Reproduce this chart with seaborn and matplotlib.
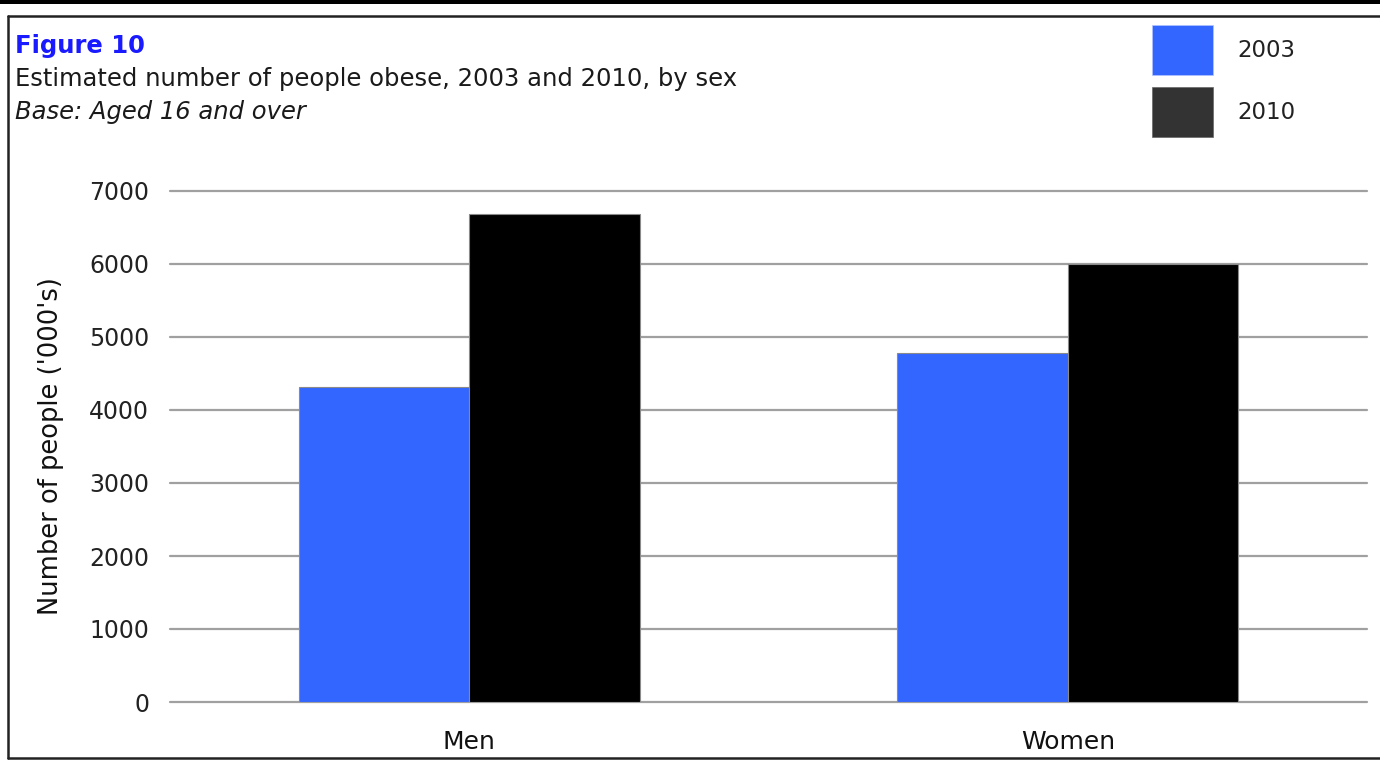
import matplotlib
matplotlib.use("Agg")
import matplotlib.pyplot as plt
from matplotlib.patches import Patch, Rectangle
from matplotlib.lines import Line2D
import seaborn as sns
import pandas as pd

# Estimated number of obese people aged 16+ ('000s)
sexes = ["Men", "Women"]
years = ["2003", "2010"]
values_2003 = [4310, 4780]
values_2010 = [6680, 6000]
y_ticks = [0, 1000, 2000, 3000, 4000, 5000, 6000, 7000]

df = pd.DataFrame({
    "sex": sexes * 2,
    "year": [years[0]] * len(sexes) + [years[1]] * len(sexes),
    "value": values_2003 + values_2010,
})

sns.set_theme(style="white")
plt.rcParams["font.family"] = ["DejaVu Sans"]

W, H = 1380, 765
fig = plt.figure(figsize=(W / 100, H / 100), dpi=100)
fig.patch.set_facecolor("white")

# plot area in pixel terms
x0, x1 = 170, 1367
y_top, y_bot = 191, 702
ax = fig.add_axes([x0 / W, 1 - y_bot / H, (x1 - x0) / W, (y_bot - y_top) / H])

bar_colors = {"2003": "#3366ff", "2010": "#000000"}
sns.barplot(data=df, x="sex", y="value", hue="year", order=sexes,
            hue_order=years, palette=bar_colors, width=0.57, gap=0,
            edgecolor="#8a8a8a", linewidth=0.8, saturation=1, ax=ax,
            zorder=3)

ax.set_xlim(-0.5, 1.5)
ax.set_ylim(0, 7000)
ax.set_yticks(y_ticks)
ax.set_yticklabels([str(t) for t in y_ticks])
ax.yaxis.grid(True, color="#a0a0a0", linewidth=1.6, zorder=0)
for gl in ax.get_ygridlines():
    gl.set_clip_on(False)
ax.set_axisbelow(True)
for s in ax.spines.values():
    s.set_visible(False)
ax.tick_params(axis="y", length=0, pad=15, labelsize=17, labelcolor="#222222")
ax.tick_params(axis="x", length=0, pad=20, labelsize=18, labelcolor="#111111")
ax.set_xlabel("")
ax.set_ylabel("Number of people ('000's)", fontsize=18.5, color="#111111",
              labelpad=18)
ax.get_legend().remove()

# legend squares and labels
handles = [Patch(facecolor="#3366ff", edgecolor="#b0c4ff", linewidth=0.5),
           Patch(facecolor="#333333", edgecolor="#666666", linewidth=0.5)]
fig.legend(handles, years, loc="upper left",
           bbox_to_anchor=(1152 / W, 1 - 25 / H), frameon=False,
           fontsize=16.5, handlelength=2.66, handleheight=2.97,
           labelspacing=0.55, handletextpad=1.05, borderpad=0,
           borderaxespad=0, labelcolor="#222222")

# heading block
fig.text(15 / W, 1 - 46 / H, "Figure 10", fontsize=17.5, fontweight="bold",
         color="#1a1aff", va="center", ha="left")
fig.text(15 / W, 1 - 79 / H,
         "Estimated number of people obese, 2003 and 2010, by sex",
         fontsize=17.5, color="#1a1a1a", va="center", ha="left")
fig.text(15 / W, 1 - 112 / H, "Base: Aged 16 and over", fontsize=17.5,
         fontstyle="italic", color="#1a1a1a", va="center", ha="left")

# outer frame
fig.add_artist(Rectangle((0, 1 - 4 / H), 1, 4 / H, transform=fig.transFigure,
                         facecolor="black", edgecolor="none"))
fig.add_artist(Line2D([7.5 / W, 1], [1 - 16 / H, 1 - 16 / H],
                      transform=fig.transFigure, color="#222222", linewidth=1.8))
fig.add_artist(Line2D([7.5 / W, 7.5 / W], [1 - 16 / H, 1 - 758 / H],
                      transform=fig.transFigure, color="#222222", linewidth=1.8))
fig.add_artist(Line2D([7.5 / W, 1], [1 - 758 / H, 1 - 758 / H],
                      transform=fig.transFigure, color="#222222", linewidth=1.8))

fig.savefig("out.png", dpi=100)
